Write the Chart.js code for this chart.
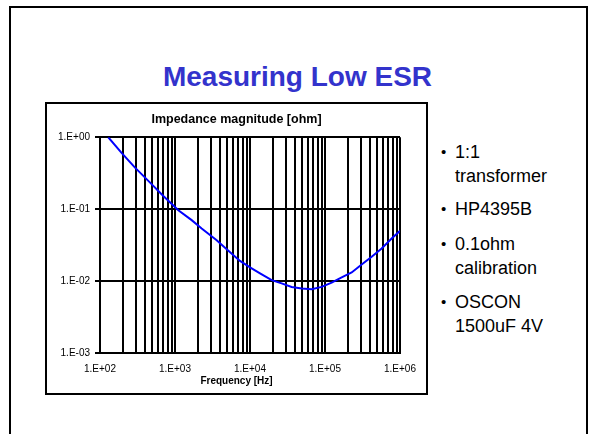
<!DOCTYPE html>
<html>
<head>
<meta charset="utf-8">
<title>Measuring Low ESR</title>
<script src="https://cdn.jsdelivr.net/npm/chart.js@4/dist/chart.umd.min.js"></script>
<style>
  html, body { margin: 0; padding: 0; width: 589px; height: 434px; overflow: hidden; background: #fff;
    font-family: "Liberation Sans", Arial, sans-serif; color: #000; }
  .slide { position: absolute; left: 9px; top: 6px; width: 575px; height: 470px;
    border: 2px solid #000; border-bottom: none; }
  .heading { position: absolute; left: 3px; top: 61px; width: 589px; text-align: center;
    font-size: 28px; line-height: 32px; font-weight: bold; color: #3333cc; margin: 0; }
  .chart-box { position: absolute; left: 45px; top: 102px; width: 379px; height: 289px;
    border: 2px solid #000; background: #fff; }
  .chart-box canvas { display: block; }
  .bullet { position: absolute; left: 455px; font-size: 18px; line-height: 24px; }
  .bullet::before { content: "\2022"; position: absolute; left: -14px; font-size: 15px; }
</style>
</head>
<body>
<div class="slide"></div>
<h1 class="heading">Measuring Low ESR</h1>
<div class="chart-box"><canvas id="esr" width="379" height="289"></canvas></div>
<div class="bullet" style="top:140px">1:1<br>transformer</div>
<div class="bullet" style="top:197px">HP4395B</div>
<div class="bullet" style="top:232px">0.1ohm<br>calibration</div>
<div class="bullet" style="top:290px">OSCON<br>1500uF 4V</div>
<script>
// Measured impedance magnitude of the OSCON 1500uF 4V capacitor
const frequencyHz = [129, 194, 293, 441, 699, 1108, 1668, 2268, 3594, 4888, 7356, 10000, 13600,
  19450, 26400, 35900, 48900, 66400, 90300, 122700, 166900, 226800, 308300, 419000, 569800,
  774300, 1000000];
const impedanceOhm = [1.0, 0.606, 0.379, 0.248, 0.153, 0.0969, 0.0704, 0.0539, 0.0371, 0.0278,
  0.0191, 0.0155, 0.0128, 0.0103, 0.0093, 0.0083, 0.0079, 0.0077, 0.0083, 0.0095, 0.0113,
  0.0132, 0.017, 0.0218, 0.0284, 0.0392, 0.05];

// Axis decades and their labels
const xDecades = [1e2, 1e3, 1e4, 1e5, 1e6];
const xTickLabels = ['1.E+02', '1.E+03', '1.E+04', '1.E+05', '1.E+06'];
const yDecades = [1e-3, 1e-2, 1e-1, 1];
const yTickLabels = ['1.E-03', '1.E-02', '1.E-01', '1.E+00'];
const minorSteps = [1, 2, 3, 4, 5, 6, 7, 8, 9];

// Vertical grid lines at 1..9 of every frequency decade
const xGridValues = [];
xDecades.slice(0, -1).forEach(d => minorSteps.forEach(m => xGridValues.push(d * m)));
xGridValues.push(xDecades[xDecades.length - 1]);

function labelFor(value, decades, labels) {
  const i = decades.findIndex(d => Math.abs(value / d - 1) < 1e-6);
  return i >= 0 ? labels[i] : '';
}

Chart.defaults.font.family = '"Liberation Sans", Arial, sans-serif';
Chart.defaults.color = '#000';

new Chart(document.getElementById('esr'), {
  type: 'line',
  data: {
    datasets: [{
      data: frequencyHz.map((f, i) => ({ x: f, y: impedanceOhm[i] })),
      borderColor: '#0000ff',
      borderWidth: 2,
      pointRadius: 0,
      tension: 0,
      fill: false
    }]
  },
  options: {
    responsive: false,
    animation: false,
    devicePixelRatio: 1,
    layout: { padding: 0 },
    plugins: {
      legend: { display: false },
      tooltip: { enabled: false },
      title: {
        display: true,
        text: 'Impedance magnitude [ohm]',
        color: '#000',
        font: { size: 12.5, weight: 'bold' },
        padding: { top: 8, bottom: 10.3 }
      },
      subtitle: {
        display: true,
        position: 'bottom',
        text: 'Frequency [Hz]',
        color: '#000',
        font: { size: 10, weight: 'bold' },
        padding: { top: 0, bottom: 6 }
      }
    },
    scales: {
      x: {
        type: 'logarithmic',
        min: 100,
        max: 1e6,
        afterBuildTicks: s => { s.ticks = xGridValues.map(v => ({ value: v })); },
        ticks: {
          autoSkip: false, maxRotation: 0, padding: 10, color: '#000', font: { size: 10 },
          callback: v => labelFor(v, xDecades, xTickLabels)
        },
        grid: { color: '#000', lineWidth: 2, drawTicks: false },
        border: { color: '#000', width: 2 },
        afterFit: s => { s.height = 22; }
      },
      y: {
        type: 'logarithmic',
        min: 1e-3,
        max: 1,
        afterBuildTicks: s => { s.ticks = yDecades.map(v => ({ value: v })); },
        ticks: {
          padding: 5, color: '#000', font: { size: 10 },
          callback: v => labelFor(v, yDecades, yTickLabels)
        },
        grid: { color: '#000', lineWidth: 2, tickLength: 5 },
        border: { color: '#000', width: 2 },
        afterFit: s => { s.width = 53; }
      },
      rightMargin: {
        type: 'linear',
        position: 'right',
        display: true,
        ticks: { display: false },
        grid: { display: false },
        border: { display: false },
        afterFit: s => { s.width = 26; }
      }
    }
  }
});
</script>
</body>
</html>
